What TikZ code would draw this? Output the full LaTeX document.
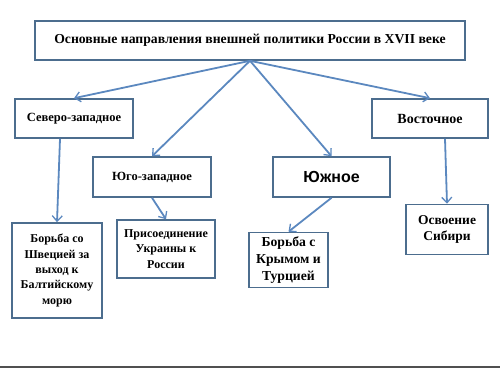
\documentclass[tikz,border=0pt]{standalone}
\usepackage{fontspec}
\setmainfont{Liberation Serif}
\newfontfamily\headsans{Liberation Sans}
\usetikzlibrary{arrows.meta}
\definecolor{boxedge}{HTML}{4C6D8E}
\definecolor{arrblue}{HTML}{5B88BF}
\definecolor{rulegray}{HTML}{505050}

\begin{document}
\begin{tikzpicture}[x=1pt,y=-1pt,
  box/.style={draw=boxedge,line width=1.6pt,inner sep=2pt,align=center,
    font=\fontsize{12}{15.4}\selectfont\bfseries},
  arr/.style={draw=arrblue,line width=1.8pt,-{Straight Barb[length=5.5pt,width=10pt,line width=1.3pt]}}]
  \useasboundingbox (0,0) rectangle (500,368);
  % top heading
  \node[box,minimum width=430pt,minimum height=39pt,font=\fontsize{13.7}{16}\selectfont\bfseries] (main) at (250,40.5) {Основные направления внешней политики России в XVII веке};
  % directions
  \node[box,minimum width=118pt,minimum height=39pt,font=\fontsize{12.5}{15}\selectfont\bfseries] (nw) at (74,118.5) {Северо-западное};
  \node[box,minimum width=116pt,minimum height=39pt,font=\fontsize{14}{16}\selectfont\bfseries] (east) at (430,118.5) {Восточное};
  \node[box,minimum width=118pt,minimum height=40pt,font=\fontsize{12.5}{15}\selectfont\bfseries] (sw) at (152,177) {Юго-западное};
  \node[box,minimum width=117pt,minimum height=40pt,font=\fontsize{16}{18}\selectfont\headsans\bfseries] (south) at (331.5,177) {Южное};
  % tasks
  \node[box,minimum width=90pt,minimum height=95pt] (sweden) at (57,270.5) {Борьба со\\Швецией за\\выход к\\Балтийскому\\морю};
  \node[box,minimum width=98pt,minimum height=58pt] (ukraine) at (166,249) {Присоединение\\Украины к\\России};
  \node[box,minimum width=79pt,minimum height=55pt,font=\fontsize{13.7}{17}\selectfont\bfseries] (crimea) at (288.5,260) {Борьба с\\Крымом и\\Турцией};
  \node[box,minimum width=82pt,minimum height=50pt,font=\fontsize{13.5}{15.5}\selectfont\bfseries] (siberia) at (447,229.5) {Освоение\\Сибири};
  % connectors
  \draw[arr] (main.south) -- (nw.north);
  \draw[arr] (main.south) -- (east.north);
  \draw[arr] (main.south) -- (sw.north);
  \draw[arr] (main.south) -- (south.north);
  \draw[arr] ([xshift=-14pt]nw.south) -- (sweden.north);
  \draw[arr] (sw.south) -- (ukraine.north);
  \draw[arr] (south.south) -- (crimea.north);
  \draw[arr] ([xshift=15pt]east.south) -- (siberia.north);
  % bottom rule
  \draw[rulegray,line width=2pt] (0,366.5) -- (500,366.5);
\end{tikzpicture}
\end{document}
